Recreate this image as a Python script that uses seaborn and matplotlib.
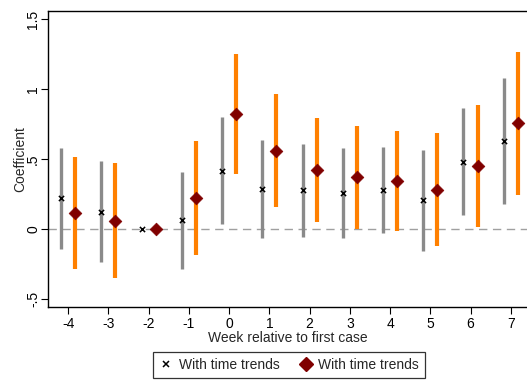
import numpy as np
import pandas as pd
import matplotlib
matplotlib.use("Agg")
import matplotlib.pyplot as plt
import seaborn as sns
from matplotlib.lines import Line2D

weeks = [-4, -3, -2, -1, 0, 1, 2, 3, 4, 5, 6, 7]

# Series A (grey bars, x markers)
a_coef = [0.22, 0.124, 0.0, 0.064, 0.414, 0.286, 0.276, 0.259, 0.279, 0.207, 0.481, 0.626]
a_lo = [-0.143, -0.238, 0.0, -0.283, 0.033, -0.067, -0.055, -0.062, -0.031, -0.157, 0.098, 0.176]
a_hi = [0.579, 0.486, 0.0, 0.41, 0.80, 0.636, 0.607, 0.579, 0.588, 0.567, 0.867, 1.081]

# Series B (orange bars, diamond markers)
b_coef = [0.112, 0.06, 0.0, 0.219, 0.82, 0.559, 0.421, 0.369, 0.345, 0.281, 0.452, 0.755]
b_lo = [-0.288, -0.348, 0.0, -0.186, 0.39, 0.16, 0.048, 0.0, -0.012, -0.121, 0.017, 0.242]
b_hi = [0.517, 0.47, 0.0, 0.626, 1.25, 0.962, 0.793, 0.736, 0.698, 0.683, 0.883, 1.264]

legend_labels = ["With time trends", "With time trends"]
xlabel = "Week relative to first case"
ylabel = "Coefficient"
yticks = [-0.5, 0, 0.5, 1, 1.5]
yticklabels = ["-.5", "0", ".5", "1", "1.5"]

sns.set_theme(style="white")
plt.rcParams['font.family'] = ['Liberation Sans', 'DejaVu Sans']

FS = 10

fig = plt.figure(figsize=(5.27, 3.81), dpi=100)
ax = fig.add_axes([48/527, 74/381, 1 - 48/527 + 0.002, (307-11)/381])

off = 0.175
wa = np.array(weeks) - off
wb = np.array(weeks) + off

ax.axhline(0, color="#a0a0a0", lw=1.0, ls=(0, (6, 4)), zorder=1)

ax.vlines(wa, a_lo, a_hi, color="#8a8a8a", lw=2.4, zorder=2)
ax.vlines(wb, b_lo, b_hi, color="#ff8000", lw=3.0, zorder=2)

dfa = pd.DataFrame({"x": wa, "y": a_coef})
dfb = pd.DataFrame({"x": wb, "y": b_coef})
sns.scatterplot(data=dfa, x="x", y="y", marker="x", color="black", s=14,
                linewidth=1.1, ax=ax, zorder=3, legend=False)
sns.scatterplot(data=dfb, x="x", y="y", marker="D", color="#800000", s=42,
                edgecolor="#800000", linewidth=0.5, ax=ax, zorder=3, legend=False)

ax.set_xlim(-4.5, 7.43)
ax.set_ylim(-0.557, 1.557)
ax.set_xticks(weeks)
ax.set_xticklabels([str(w) for w in weeks], fontsize=FS)
ax.set_yticks(yticks)
ax.set_yticklabels(yticklabels, fontsize=FS, rotation=90, va="center", ha="center")
ax.set_xlabel(xlabel, fontsize=FS, labelpad=0)
ax.set_ylabel(ylabel, fontsize=FS)
ax.yaxis.set_label_coords(-(48 - 27) / 479, 0.5)

for s in ["left", "bottom", "top"]:
    ax.spines[s].set_color("black")
    ax.spines[s].set_linewidth(1.0)
ax.spines["right"].set_visible(False)
ax.tick_params(axis="both", which="both", direction="out", length=4.8, width=0.8,
               color="black", left=True, bottom=True, pad=2.5, labelcolor="black")
ax.tick_params(axis="y", pad=6)

handles = [
    Line2D([], [], marker="x", color="black", ls="none", markersize=4, markeredgewidth=1.1),
    Line2D([], [], marker="D", color="#800000", ls="none", markersize=7),
]
leg = ax.legend(handles, legend_labels, loc="center", bbox_to_anchor=(289/527, 16/381),
                bbox_transform=fig.transFigure, ncol=2, frameon=True, fancybox=False,
                fontsize=FS, handletextpad=0.4, columnspacing=1.4, borderpad=0.45,
                handlelength=1.0)
leg.get_frame().set_edgecolor("black")
leg.get_frame().set_linewidth(0.9)

fig.savefig("out.png", dpi=100)
